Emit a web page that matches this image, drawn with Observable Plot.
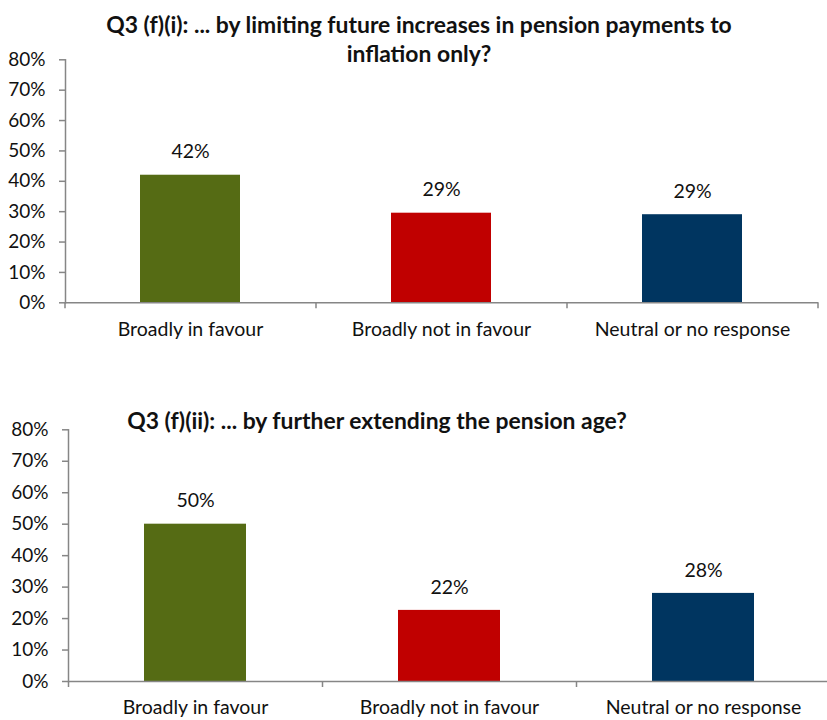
<!DOCTYPE html>
<html>
<head>
<meta charset="utf-8">
<script src="https://cdn.jsdelivr.net/npm/d3@7"></script>
<script src="https://cdn.jsdelivr.net/npm/@observablehq/plot@0.6"></script>
<style>
  html, body { margin: 0; padding: 0; background: #fff; }
  #wrap { position: relative; width: 827px; height: 720px; overflow: hidden; font-family: Lato, "Open Sans", sans-serif; }
  .title { position: absolute; font-weight: bold; font-size: 22.9px; line-height: 29px; color: #111; text-align: center; white-space: nowrap; transform: translateX(-50%); }
  .chart { position: absolute; left: 0; max-width: none !important; }
</style>
</head>
<body>
<div id="wrap"></div>
<script>
const categories = ["Broadly in favour", "Broadly not in favour", "Neutral or no response"];
const colors = ["#556B14", "#C00000", "#003560"];
const title1 = ["Q3 (f)(i): ... by limiting future increases in pension payments to", "inflation only?"];
const values1 = [0.42, 0.295, 0.29];
const labels1 = ["42%", "29%", "29%"];
const title2 = ["Q3 (f)(ii): ... by further extending the pension age?"];
const values2 = [0.50, 0.226, 0.28];
const labels2 = ["50%", "22%", "28%"];
const yTicks = [0, 0.1, 0.2, 0.3, 0.4, 0.5, 0.6, 0.7, 0.8];

const wrap = document.getElementById("wrap");
const axisGray = "#868686";
const font = "Lato, 'Open Sans', sans-serif";

function makeChart({values, labels, width, height, marginTop, marginBottom, marginLeft, marginRight, labelPad}) {
  const data = categories.map((c, i) => ({cat: c, value: values[i], label: labels[i], color: colors[i]}));
  const step = (width - marginLeft - marginRight) / categories.length;
  const last = categories[categories.length - 1];
  return Plot.plot({
    width, height, marginTop, marginBottom, marginLeft, marginRight,
    style: {fontFamily: font, fontSize: "19px", color: "#111", background: "#fff", overflow: "visible", maxWidth: "none"},
    x: {domain: categories, paddingInner: 0.6, paddingOuter: 0.3, label: null},
    y: {domain: [0, 0.8], label: null},
    marks: [
      Plot.barY(data, {x: "cat", y: "value", fill: "color"}),
      Plot.frame({anchor: "left", stroke: axisGray, strokeOpacity: 1, strokeWidth: 1.5}),
      Plot.ruleY([0], {stroke: axisGray, strokeWidth: 1.5}),
      Plot.ruleX(categories, {x: d => d, dx: -step / 2, y1: 0, y2: 0, insetBottom: -6, stroke: axisGray, strokeWidth: 1.5}),
      Plot.ruleX([last], {x: d => d, dx: step / 2, y1: 0, y2: 0, insetBottom: -6, stroke: axisGray, strokeWidth: 1.5}),
      Plot.axisY({ticks: yTicks, tickFormat: d3.format(".0%"), tickSize: 6, tickPadding: 14, stroke: axisGray, strokeWidth: 1.5, fill: "#111", fontSize: 19, label: null}),
      Plot.axisX({tickSize: 0, tickPadding: labelPad, fill: "#111", fontSize: 19.5, label: null}),
      Plot.text(data, {x: "cat", y: "value", text: "label", dy: -23, fill: "#111", fontSize: 19.5})
    ]
  });
}

function addTitle(lines, cx, top) {
  const d = document.createElement("div");
  d.className = "title";
  d.style.left = cx + "px";
  d.style.top = top + "px";
  d.innerHTML = lines.join("<br>");
  wrap.appendChild(d);
}

const c1 = makeChart({values: values1, labels: labels1, width: 827, height: 345, marginTop: 59.3, marginBottom: 42.7, marginLeft: 65, marginRight: 9, labelPad: 19});
c1.classList.add("chart");
c1.style.top = "0px";
wrap.appendChild(c1);

const c2 = makeChart({values: values2, labels: labels2, width: 840, height: 340, marginTop: 49.3, marginBottom: 39, marginLeft: 68, marginRight: 10, labelPad: 19});
c2.classList.add("chart");
c2.style.top = "380px";
c2.style.maxWidth = "none";
wrap.appendChild(c2);

addTitle(title1, 419, 9.5);
addTitle(title2, 377, 405.5);
</script>
</body>
</html>
